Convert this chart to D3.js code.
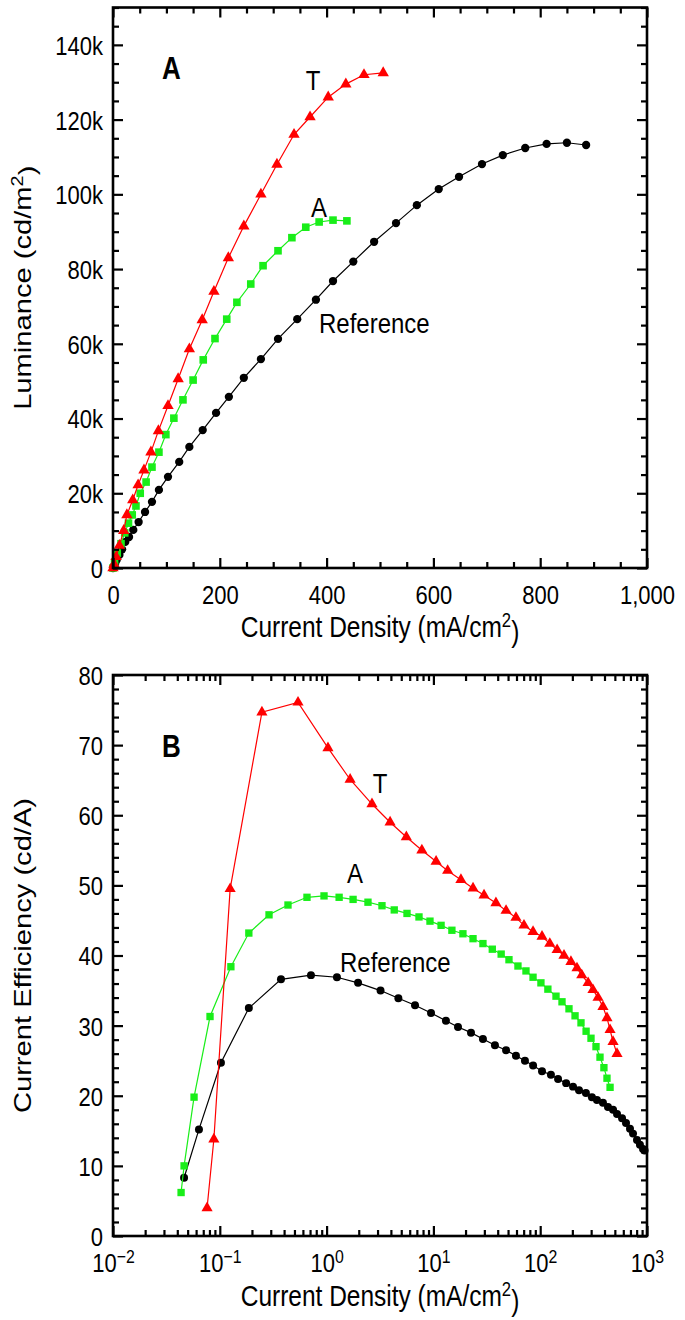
<!DOCTYPE html>
<html>
<head>
<meta charset="utf-8">
<script src="https://cdn.jsdelivr.net/npm/d3@7"></script>
<style>
  html, body { margin: 0; padding: 0; background: #fff; }
  svg { display: block; font-family: "Liberation Sans", Arial, sans-serif; }
</style>
</head>
<body>
<svg id="chart" width="685" height="1320"></svg>
<script>
// ---------------- DATA ----------------
// Panel A: Luminance (cd/m^2) vs current density (mA/cm^2)
const refA_J = [0, 2, 4, 7, 12, 17, 23, 30, 38, 48, 60, 73, 86, 103, 124, 143, 168, 193, 217, 245, 277, 309, 345, 380, 412, 450, 489, 530, 569, 610, 648, 691, 730, 772, 812, 850, 886];
const refA_L = [0, 500, 1200, 2200, 3500, 5000, 7000, 8300, 10200, 12300, 15000, 17700, 20900, 24400, 28400, 32400, 36900, 41500, 45800, 50900, 55900, 61300, 66600, 71800, 76800, 82000, 87300, 92300, 97100, 101400, 104700, 108100, 110500, 112400, 113500, 113800, 113200];
const tA_J = [0, 2, 6, 12, 20, 26, 37, 47, 58, 71, 85, 103, 122, 143, 167, 189, 216, 245, 277, 307, 339, 369, 403, 436, 470, 506];
const tA_L = [0, 1000, 3000, 6000, 10000, 14200, 18200, 22200, 26200, 31000, 36700, 43400, 50600, 58600, 66400, 74000, 83000, 91500, 100000, 108000, 116000, 120700, 126000, 129500, 132000, 132500];
const aA_J = [0, 3, 8, 15, 22, 29, 36, 43, 51, 62, 73, 86, 99, 114, 131, 150, 169, 191, 213, 232, 258, 281, 309, 335, 361, 386, 412, 438];
const aA_L = [0, 1500, 4000, 6500, 9400, 12000, 14200, 16600, 20000, 23000, 27000, 31000, 35700, 40100, 45000, 50300, 55700, 61400, 66600, 71100, 76000, 80900, 84900, 88400, 91200, 92600, 93100, 92900];

// Panel B: Current efficiency (cd/A) vs current density (mA/cm^2, log)
const tB_J = [0.076, 0.088, 0.125, 0.248, 0.54, 1.03, 1.66, 2.66, 3.93, 5.58, 7.8, 10.6, 13.6, 18.1, 23.5, 29.8, 38.5, 47.9, 59.3, 70.5, 85.7, 104, 123, 144, 167, 194, 221, 245, 281, 312, 348, 387, 422, 451, 481, 524];
const tB_CE = [4.0, 13.8, 49.5, 74.7, 76.1, 69.6, 65.1, 61.6, 59.0, 56.9, 55.0, 53.4, 52.1, 50.8, 49.6, 48.6, 47.5, 46.4, 45.4, 44.3, 43.4, 42.7, 41.7, 40.8, 40.0, 39.1, 38.2, 37.2, 36.1, 35.1, 34.0, 32.7, 31.1, 29.4, 27.7, 26.0];
const aB_J = [0.0434, 0.0463, 0.0574, 0.081, 0.127, 0.187, 0.289, 0.435, 0.655, 0.946, 1.31, 1.77, 2.44, 3.3, 4.3, 5.66, 7.33, 9.29, 11.8, 14.9, 18.9, 23.5, 29.1, 35.6, 43.1, 51.0, 61.9, 73.6, 85.7, 101.6, 118, 140.6, 160, 186, 212, 241, 269, 299, 333, 363, 395, 422, 451];
const aB_CE = [6.2, 10.0, 19.8, 31.3, 38.4, 43.2, 45.8, 47.2, 48.3, 48.5, 48.3, 48.0, 47.6, 47.1, 46.5, 46.0, 45.5, 44.9, 44.3, 43.6, 43.1, 42.4, 41.7, 40.9, 40.2, 39.4, 38.5, 37.8, 36.9, 36.1, 35.2, 34.2, 33.4, 32.4, 31.4, 30.4, 29.2, 28.2, 27.0, 25.5, 24.0, 22.5, 21.2];
const refB_J = [0.0463, 0.0638, 0.1025, 0.187, 0.374, 0.714, 1.25, 1.97, 3.2, 4.7, 6.73, 9.5, 13.1, 17, 22.5, 29.1, 37.7, 47.9, 59.3, 72, 85.8, 104, 126, 147, 175, 203, 231, 268, 305, 340, 387, 431, 481, 524, 584, 636, 693, 740, 806, 859, 918, 950];
const refB_CE = [8.3, 15.2, 24.7, 32.5, 36.6, 37.2, 36.9, 36.1, 35.0, 33.9, 32.9, 31.8, 30.7, 29.8, 29.0, 28.1, 27.2, 26.5, 25.7, 25.0, 24.3, 23.5, 23.0, 22.4, 21.8, 21.3, 20.8, 20.4, 19.8, 19.4, 19.0, 18.4, 18.0, 17.4, 16.8, 16.1, 15.3, 14.6, 13.7, 13.0, 12.4, 12.2];

// Tick values
const aXTicks = [0, 200, 400, 600, 800, 1000];
const aYTicks = [0, 20000, 40000, 60000, 80000, 100000, 120000, 140000];
const bXTicks = [0.01, 0.1, 1, 10, 100, 1000];
const bXExp = ["−2", "−1", "0", "1", "2", "3"];
const bYTicks = [0, 10, 20, 30, 40, 50, 60, 70, 80];

// ---------------- STYLE ----------------
const RED = "#ff0000", GREEN = "#19ee19", BLACK = "#000000";
const FONT_TICK = 22, FONT_TITLE = 24.5, FONT_LABEL = 24, FONT_PANEL = 26;
const S = 1.19; // vertical stretch of the lettering in the original figure
const L = 113, R = 647;

const svg = d3.select("#chart");

function zipXY(xs, ys) { return xs.map((v, i) => [v, ys[i]]); }

function drawFrameAxes(g, x, y, xMajor, xMinor, yMajor, yMinor, top, bottom, xFmt, yFmt, logLabels) {
  const MAJ = 10, MIN = 6;
  const gb = g.append("g").attr("transform", `translate(0,${bottom})`)
    .call(d3.axisBottom(x).tickValues(xMajor).tickSize(-MAJ).tickPadding(15).tickFormat(logLabels ? () => "" : xFmt));
  g.append("g").attr("transform", `translate(0,${bottom})`)
    .call(d3.axisBottom(x).tickValues(xMinor).tickSize(-MIN).tickFormat(""));
  g.append("g").attr("transform", `translate(0,${top})`)
    .call(d3.axisTop(x).tickValues(xMajor).tickSize(-MAJ).tickFormat(""));
  g.append("g").attr("transform", `translate(0,${top})`)
    .call(d3.axisTop(x).tickValues(xMinor).tickSize(-MIN).tickFormat(""));
  const gl = g.append("g").attr("transform", `translate(${L},0)`)
    .call(d3.axisLeft(y).tickValues(yMajor).tickSize(-MAJ).tickPadding(10).tickFormat(yFmt));
  g.append("g").attr("transform", `translate(${L},0)`)
    .call(d3.axisLeft(y).tickValues(yMinor).tickSize(-MIN).tickFormat(""));
  g.append("g").attr("transform", `translate(${R},0)`)
    .call(d3.axisRight(y).tickValues(yMajor).tickSize(-MAJ).tickFormat(""));
  g.append("g").attr("transform", `translate(${R},0)`)
    .call(d3.axisRight(y).tickValues(yMinor).tickSize(-MIN).tickFormat(""));

  g.selectAll(".domain").remove();
  g.selectAll(".tick line").attr("stroke", "#000").attr("stroke-width", 2.2);
  g.selectAll(".tick text").attr("font-size", FONT_TICK).attr("fill", "#000")
    .attr("font-family", "'Liberation Sans', Arial, sans-serif")
    .attr("transform", `scale(1,${S})`);
  gl.selectAll(".tick text").attr("dy", "0.36em");

  if (logLabels) {
    gb.selectAll(".tick text").each(function (d, i) {
      const t = d3.select(this);
      t.append("tspan").text("10");
      t.append("tspan").attr("dy", "-0.5em").attr("font-size", "72%").text(logLabels[i]);
    });
  }
  g.append("rect").attr("x", L).attr("y", top).attr("width", R - L).attr("height", bottom - top)
    .attr("fill", "none").attr("stroke", "#000").attr("stroke-width", 2.6);
}

function drawSeries(g, x, y, pts, color, symType, size) {
  g.append("path").datum(pts)
    .attr("fill", "none").attr("stroke", color).attr("stroke-width", 1.2)
    .attr("d", d3.line().x(d => x(d[0])).y(d => y(d[1])));
  g.selectAll(null).data(pts).enter().append("path")
    .attr("transform", d => `translate(${x(d[0])},${y(d[1])})`)
    .attr("d", d3.symbol().type(symType).size(size))
    .attr("fill", color);
}

function label(g, x, y, txt, size, anchor, bold, rotate) {
  const t = g.append("text")
    .attr("transform", `translate(${x},${y}) scale(1,${S})` + (rotate ? " rotate(-90)" : ""))
    .attr("text-anchor", anchor).attr("font-size", size);
  if (bold) t.attr("font-weight", "bold");
  if (Array.isArray(txt)) {
    t.append("tspan").text(txt[0]);
    t.append("tspan").attr("dy", "-0.5em").attr("font-size", "68%").text(txt[1]);
    t.append("tspan").attr("dy", "0.5em").text(txt[2]);
  } else t.text(txt);
  return t;
}

// ---------------- PANEL A ----------------
const aTop = 7.5, aBot = 568;
const xA = d3.scaleLinear().domain([0, 1000]).range([L, R]);
const yA = d3.scaleLinear().domain([0, 150000]).range([aBot, aTop]);
const gA = svg.append("g");

drawSeries(gA, xA, yA, zipXY(refA_J, refA_L), BLACK, d3.symbolCircle, 54);
drawSeries(gA, xA, yA, zipXY(aA_J, aA_L), GREEN, d3.symbolSquare, 58);
drawSeries(gA, xA, yA, zipXY(tA_J, tA_L), RED, d3.symbolTriangle, 56);

drawFrameAxes(gA, xA, yA, aXTicks, d3.range(0, 1001, 50).filter(v => v % 200 !== 0),
  aYTicks, d3.range(0, 150001, 5000).filter(v => v % 20000 !== 0), aTop, aBot,
  d3.format(","), d => d === 0 ? "0" : (d / 1000) + "k", null);

label(gA, 162, 79, "A", FONT_PANEL, "start", true);
label(gA, 313, 90, "T", FONT_LABEL, "middle");
label(gA, 319, 217, "A", FONT_LABEL, "middle");
label(gA, 319, 333, "Reference", FONT_LABEL, "start");
label(gA, (L + R) / 2, 637, ["Current Density (mA/cm", "2", ")"], FONT_TITLE, "middle");
label(gA, 31, (aTop + aBot) / 2, ["Luminance (cd/m", "2", ")"], FONT_TITLE, "middle", false, true);

// ---------------- PANEL B ----------------
const bTop = 675, bBot = 1236;
const xB = d3.scaleLog().domain([0.01, 1000]).range([L, R]);
const yB = d3.scaleLinear().domain([0, 80]).range([bBot, bTop]);
const gB = svg.append("g");

const bXMinor = [];
bXTicks.slice(0, -1).forEach(dec => { for (let k = 2; k <= 9; k++) bXMinor.push(dec * k); });

drawSeries(gB, xB, yB, zipXY(refB_J, refB_CE), BLACK, d3.symbolCircle, 50);
drawSeries(gB, xB, yB, zipXY(aB_J, aB_CE), GREEN, d3.symbolSquare, 54);
drawSeries(gB, xB, yB, zipXY(tB_J, tB_CE), RED, d3.symbolTriangle, 54);

drawFrameAxes(gB, xB, yB, bXTicks, bXMinor, bYTicks, d3.range(0, 81, 2).filter(v => v % 10 !== 0),
  bTop, bBot, null, d => String(d), bXExp);

label(gB, 162, 757, "B", FONT_PANEL, "start", true);
label(gB, 380, 793, "T", FONT_LABEL, "middle");
label(gB, 355, 883, "A", FONT_LABEL, "middle");
label(gB, 340, 972, "Reference", FONT_LABEL, "start");
label(gB, (L + R) / 2, 1306, ["Current Density (mA/cm", "2", ")"], FONT_TITLE, "middle");
label(gB, 31, (bTop + bBot) / 2, "Current Efficiency (cd/A)", FONT_TITLE, "middle", false, true);
</script>
</body>
</html>
